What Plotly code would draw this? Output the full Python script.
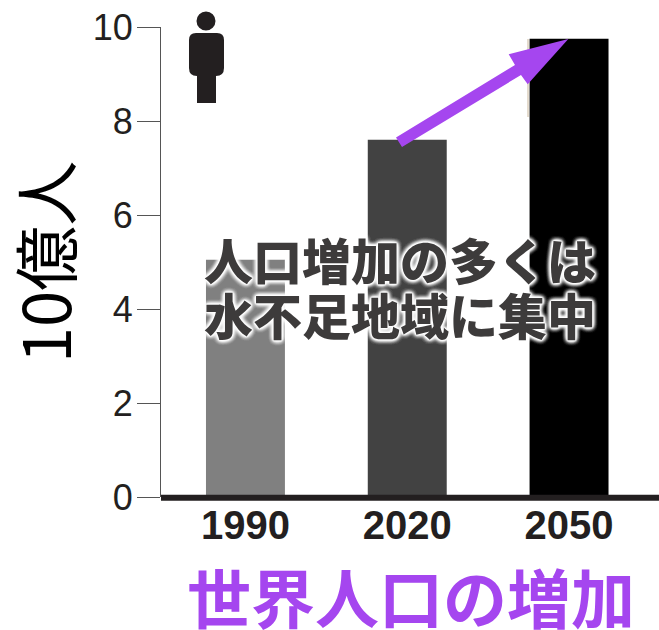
import plotly.graph_objects as go

# World population, in billions
years = ["1990", "2020", "2050"]
population = [5.05, 7.6, 9.75]
bar_colors = ["#808080", "#424242", "#000000"]
y_ticks = [0, 2, 4, 6, 8, 10]

W, H = 659, 630
LEFT, TOP, BOTTOM = 161, 27, 497

PURPLE = "#a546ef"
INK = "#231f20"
CJK = "Noto Sans CJK JP"
LATIN = "'Liberation Sans', Arial, sans-serif"
HALO = ", ".join(["0 0 2px #fff"] * 6 + ["0 0 5px #fff"] * 6)


# Page pixels to fractions of the plot area, which is what "paper" refs use
def px(x):
    return (x - LEFT) / (W - LEFT)


def py(y):
    return (BOTTOM - y) / (BOTTOM - TOP)


def poly(points):
    return "M" + " L".join(f"{px(x):.5f},{py(y):.5f}" for x, y in points) + " Z"


# Growth arrow outline, in page pixels
arrow_outline = [(396, 137.5), (515, 65), (508.7, 54.3), (568.3, 39),
                 (527.7, 84.3), (521, 75), (402, 147)]

# Person pictogram: rounded torso with a single leg block
figure_body = (
    f"M{px(189):.5f},{py(40):.5f} Q{px(189):.5f},{py(33):.5f} {px(196):.5f},{py(33):.5f} "
    f"L{px(217):.5f},{py(33):.5f} Q{px(224):.5f},{py(33):.5f} {px(224):.5f},{py(40):.5f} "
    f"L{px(224):.5f},{py(68):.5f} Q{px(224):.5f},{py(76):.5f} {px(216):.5f},{py(76):.5f} "
    f"L{px(216):.5f},{py(103):.5f} L{px(197):.5f},{py(103):.5f} L{px(197):.5f},{py(76):.5f} "
    f"Q{px(189):.5f},{py(76):.5f} {px(189):.5f},{py(68):.5f} Z"
)

fig = go.Figure(
    go.Bar(
        x=years,
        y=population,
        width=0.488,
        marker=dict(color=bar_colors, line=dict(width=0)),
        hoverinfo="skip",
    )
)

shapes = [
    # Heavy baseline
    dict(type="line", xref="paper", yref="paper", x0=0, x1=1, y0=py(497.7), y1=py(497.7),
         line=dict(color=INK, width=6), layer="above"),
    # Thin edge beside the last bar
    dict(type="line", xref="paper", yref="paper", x0=px(528), x1=px(528),
         y0=py(39), y1=py(117), line=dict(color="#c9b79c", width=1)),
    dict(type="path", xref="paper", yref="paper", path=poly(arrow_outline),
         fillcolor=PURPLE, line=dict(width=0), layer="above"),
    dict(type="path", xref="paper", yref="paper", path=figure_body,
         fillcolor=INK, line=dict(width=0), layer="above"),
    dict(type="circle", xref="paper", yref="paper",
         x0=px(196.5), x1=px(215.5), y0=py(30.5), y1=py(11.5),
         fillcolor=INK, line=dict(width=0), layer="above"),
]

callout_font = dict(family=CJK, size=49, color="#3d3b3b", weight=900, shadow=HALO)
annotations = [
    dict(text="人口増加の多くは", xref="paper", yref="paper", x=px(400), y=py(258),
         xanchor="center", yanchor="middle", showarrow=False, font=callout_font),
    dict(text="水不足地域に集中", xref="paper", yref="paper", x=px(400), y=py(314),
         xanchor="center", yanchor="middle", showarrow=False, font=callout_font),
    dict(text="世界人口の増加", xref="paper", yref="paper", x=px(411), y=py(595),
         xanchor="center", yanchor="middle", showarrow=False,
         font=dict(family=CJK, size=64, color=PURPLE, weight=700)),
    # Vertical unit label left of the tick labels
    dict(text="10億人", xref="paper", yref="paper", x=px(43), y=py(262),
         xanchor="center", yanchor="middle", showarrow=False, textangle=-90,
         font=dict(family=CJK, size=65, color="#000000")),
]

fig.update_layout(
    width=W,
    height=H,
    margin=dict(l=LEFT, r=0, t=TOP, b=H - BOTTOM, pad=0),
    paper_bgcolor="white",
    plot_bgcolor="white",
    showlegend=False,
    shapes=shapes,
    annotations=annotations,
    xaxis=dict(
        type="category",
        range=[-0.522, 2.556],
        showgrid=False,
        showline=False,
        zeroline=False,
        ticks="",
        ticklabelstandoff=1,
        tickfont=dict(family=LATIN, size=40, color=INK, weight=700),
    ),
    yaxis=dict(
        range=[0, 10],
        tickvals=y_ticks,
        showgrid=False,
        zeroline=False,
        showline=True,
        linecolor="#555555",
        linewidth=1,
        ticks="outside",
        ticklen=23,
        tickwidth=1,
        tickcolor="#555555",
        ticklabelstandoff=-3,
        tickfont=dict(family=LATIN, size=36, color=INK),
    ),
)

fig.write_html("out.html", config={"displayModeBar": False})
